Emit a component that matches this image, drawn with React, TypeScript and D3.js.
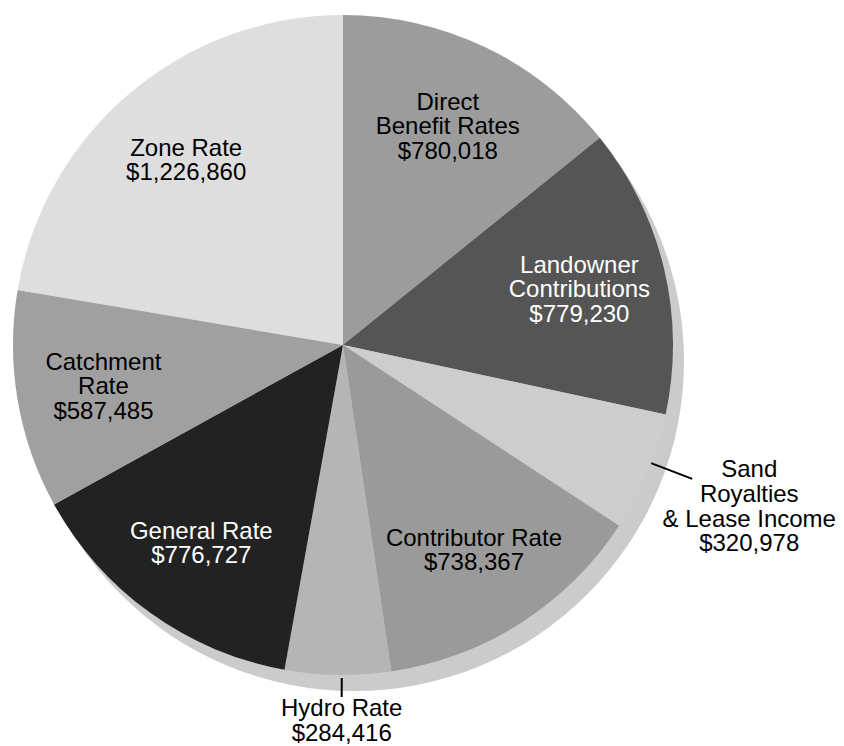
import React from "react";
import * as d3 from "d3";

// ---- data ----
const categories = [
  "Direct Benefit Rates",
  "Landowner Contributions",
  "Sand Royalties & Lease Income",
  "Contributor Rate",
  "Hydro Rate",
  "General Rate",
  "Catchment Rate",
  "Zone Rate",
];
const values = [780018, 779230, 320978, 738367, 284416, 776727, 587485, 1226860];
const labelLines = [
  ["Direct", "Benefit Rates"],
  ["Landowner", "Contributions"],
  ["Sand", "Royalties", "& Lease Income"],
  ["Contributor Rate"],
  ["Hydro Rate"],
  ["General Rate"],
  ["Catchment", "Rate"],
  ["Zone Rate"],
];

// ---- styles / layout ----
const W = 844;
const H = 746;
const CX = 343;
const CY = 345;
const R = 330;
const SHADOW_DX = 11;
const SHADOW_DY = 16;
const fills = ["#9c9c9c", "#555555", "#cdcdcd", "#9a9a9a", "#b5b5b5", "#222222", "#a0a0a0", "#dedede"];
const textFills = ["#000", "#fff", "#000", "#000", "#000", "#fff", "#000", "#000"];
const FONT = "'Liberation Sans', Arial, sans-serif";
const FONT_SIZE = 24;
const LINE_H = 24.6;
const INSIDE_R = 243;
// outside labels: index -> { angleShift (rad), leader start, leader end, text offset }
const outside: Record<number, { shift: number; r0: number; r1: number; tdx: number; tdy: number }> = {
  2: { shift: -0.03, r0: R, r1: R + 44, tdx: 57, tdy: -10 },
  4: { shift: -0.012, r0: R + 3, r1: R + 22, tdx: 0, tdy: 11 },
};

export default function App() {
  const pie = d3.pie<number>().sort(null).value((d) => d);
  const arcs = pie(values);
  const arc = d3.arc<d3.PieArcDatum<number>>().innerRadius(0).outerRadius(R);
  const fmt = d3.format("$,");

  return (
    <svg
      width={W}
      height={H}
      style={{ position: "absolute", left: 0, top: 0, background: "#fff" }}
      fontFamily={FONT}
      fontSize={FONT_SIZE}
    >
      <circle cx={CX + SHADOW_DX} cy={CY + SHADOW_DY} r={R} fill="#cbcbcb" />
      <g transform={`translate(${CX},${CY})`}>
        {arcs.map((a, i) => (
          <path key={categories[i]} d={arc(a) || ""} fill={fills[i]} />
        ))}
        {arcs.map((a, i) => {
          const lines = [...labelLines[i], fmt(values[i])];
          const mid = (a.startAngle + a.endAngle) / 2;
          const o = outside[i];
          if (o) {
            const ang = mid + o.shift;
            const x0 = Math.sin(ang) * o.r0;
            const y0 = -Math.cos(ang) * o.r0;
            const x1 = Math.sin(ang) * o.r1;
            const y1 = -Math.cos(ang) * o.r1;
            const tx = x1 + o.tdx;
            const ty = y1 + o.tdy;
            return (
              <g key={"l" + i}>
                <line x1={x0} y1={y0} x2={x1} y2={y1} stroke="#000" strokeWidth={2} />
                <text textAnchor="middle" fill={textFills[i]}>
                  {lines.map((t, k) => (
                    <tspan key={k} x={tx} y={ty + k * LINE_H} dominantBaseline="central">
                      {t}
                    </tspan>
                  ))}
                </text>
              </g>
            );
          }
          const lx = Math.sin(mid) * INSIDE_R;
          const ly = -Math.cos(mid) * INSIDE_R;
          const y0 = ly - ((lines.length - 1) / 2) * LINE_H;
          return (
            <text key={"l" + i} textAnchor="middle" fill={textFills[i]}>
              {lines.map((t, k) => (
                <tspan key={k} x={lx} y={y0 + k * LINE_H} dominantBaseline="central">
                  {t}
                </tspan>
              ))}
            </text>
          );
        })}
      </g>
    </svg>
  );
}
